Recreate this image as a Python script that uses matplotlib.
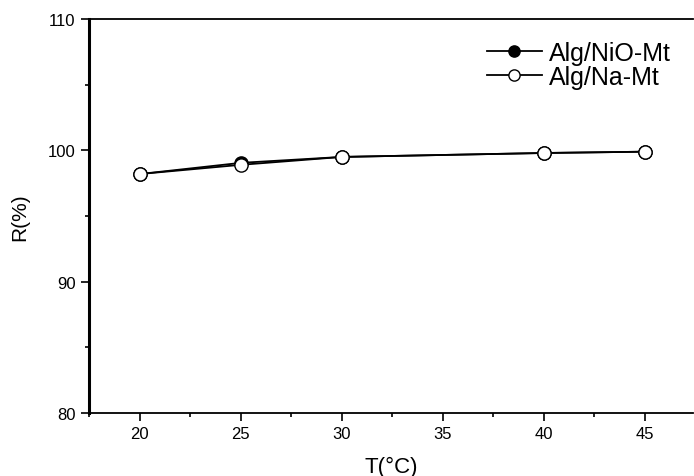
import numpy as np
import matplotlib.pyplot as plt
from matplotlib.ticker import MultipleLocator

plt.rcParams['font.family'] = ['Liberation Sans', 'DejaVu Sans']

# Temperature (°C) and removal efficiency R (%)
temperature = [20, 25, 30, 40, 45]
r_nio = [98.2, 99.05, 99.5, 99.8, 99.9]
r_na = [98.2, 98.9, 99.5, 99.8, 99.9]

fig = plt.figure(figsize=(6.94, 4.77), dpi=100)
ax = fig.add_axes([0.128, 0.132, 0.871, 0.826])

ax.plot(temperature, r_nio, color='black', lw=1.3, marker='o', ms=9.5,
        mfc='black', mec='black', label='Alg/NiO-Mt')
ax.plot(temperature, r_na, color='black', lw=1.3, marker='o', ms=9.5,
        mfc='white', mec='black', mew=1.0, label='Alg/Na-Mt')

ax.set_xlim(17.47, 47.4)
ax.set_ylim(80, 110)
ax.xaxis.set_major_locator(MultipleLocator(5))
ax.xaxis.set_minor_locator(MultipleLocator(2.5))
ax.yaxis.set_major_locator(MultipleLocator(10))
ax.yaxis.set_minor_locator(MultipleLocator(5))

ax.spines['right'].set_visible(False)
ax.spines['left'].set_linewidth(2.2)
ax.spines['bottom'].set_linewidth(1.3)
ax.spines['top'].set_linewidth(1.3)
ax.tick_params(which='major', direction='out', length=5.5, width=1.2, labelsize=12, pad=4)
ax.tick_params(which='minor', direction='out', length=3, width=1.2)
ax.tick_params(top=False, right=False, which='both')

ax.set_xlabel('T(°C)', fontsize=16, va='center')
ax.set_ylabel('R(%)', fontsize=15, va='center')
ax.xaxis.set_label_coords(0.5, -0.135)
ax.yaxis.set_label_coords(-0.114, 0.5)

ax.legend(loc='upper left', bbox_to_anchor=(0.658, 0.945), frameon=False,
          fontsize=18, handlelength=2.2, handletextpad=0.3, labelspacing=0.02,
          borderpad=0, borderaxespad=0, markerscale=0.85)

fig.savefig('out.png', dpi=100)
